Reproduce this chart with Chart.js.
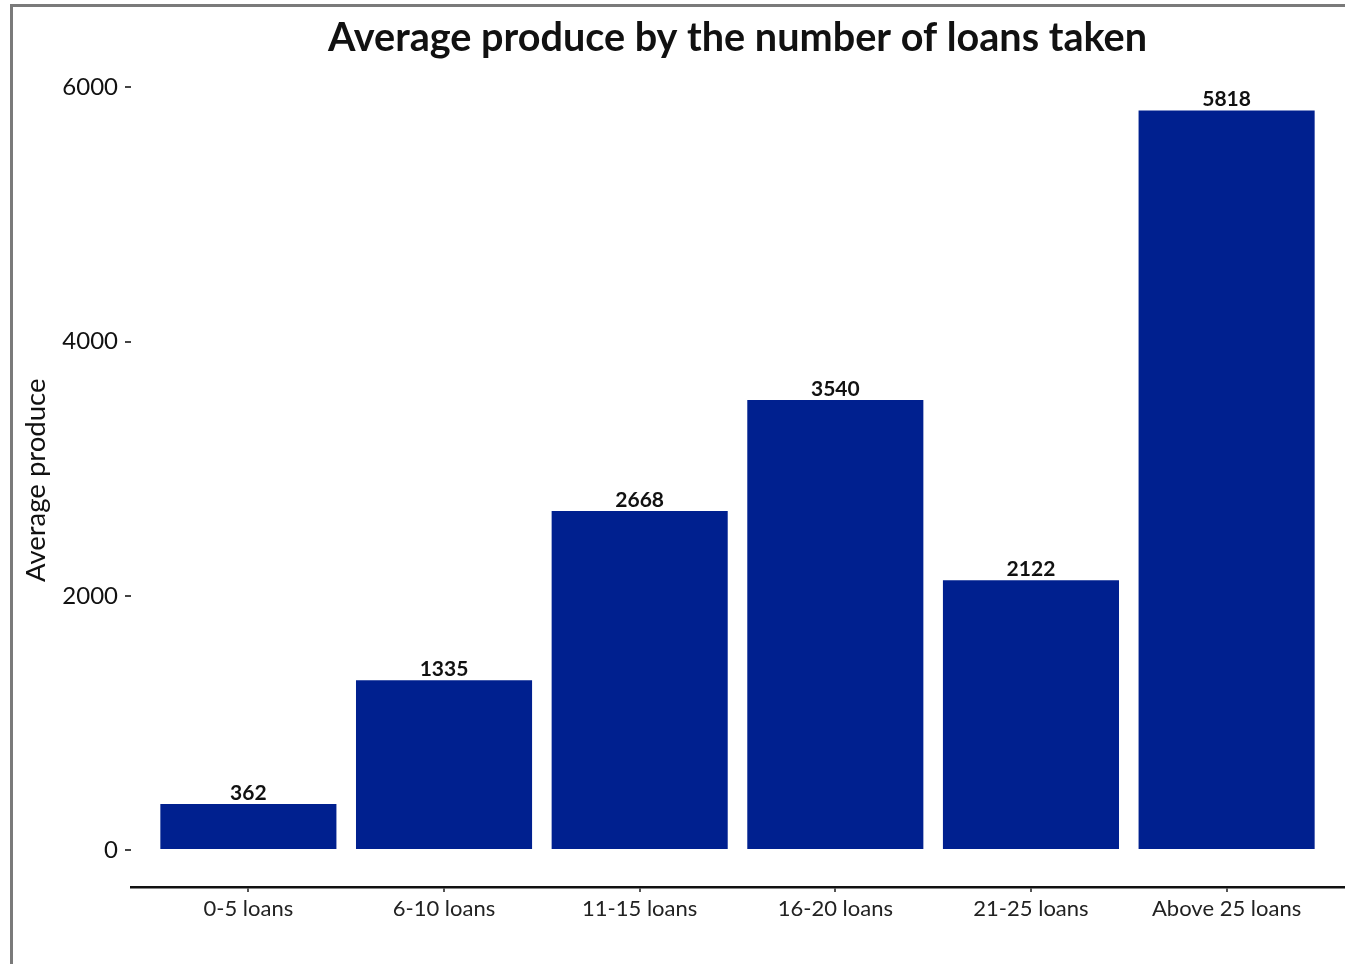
<!DOCTYPE html>
<html>
<head>
<meta charset="utf-8">
<title>Average produce by the number of loans taken</title>
<script src="https://cdn.jsdelivr.net/npm/chart.js@4.4.1/dist/chart.umd.min.js"></script>
<style>
    html, body { margin: 0; padding: 0; background: #fff; }
    #wrap { width: 1345px; height: 964px; position: relative; }
</style>
</head>
<body>
<div id="wrap"><canvas id="produceChart"></canvas></div>
<script>
// Loan-count buckets and their average produce
const loanGroups = ['0-5 loans', '6-10 loans', '11-15 loans', '16-20 loans', '21-25 loans', 'Above 25 loans'];
const avgProduce = [362, 1335, 2668, 3540, 2122, 5818];
const yTicks = [0, 2000, 4000, 6000];

const FONT = "Lato, 'Noto Sans', sans-serif";
const BAR_COLOR = '#00208F';

// ggplot-like padding around the data on the value axis
const yPad = Math.max(...avgProduce) * 0.05;

// Gray frame on the left and top edges
const framePlugin = {
    id: 'frame',
    beforeDraw(chart) {
        const { ctx } = chart;
        ctx.save();
        ctx.fillStyle = '#fff';
        ctx.fillRect(0, 0, chart.width, chart.height);
        ctx.fillStyle = '#7a7a7a';
        ctx.fillRect(10, 4, 3, chart.height - 4);
        ctx.fillRect(10, 4, chart.width - 10, 3);
        ctx.restore();
    },
};

// Value labels above each bar
const valueLabels = {
    id: 'valueLabels',
    afterDatasetsDraw(chart) {
        const { ctx } = chart;
        const meta = chart.getDatasetMeta(0);
        ctx.save();
        ctx.font = `bold 21px ${FONT}`;
        ctx.fillStyle = '#111';
        ctx.textAlign = 'center';
        ctx.textBaseline = 'alphabetic';
        meta.data.forEach((bar, i) => {
            ctx.fillText(String(avgProduce[i]), bar.x, bar.y - 4);
        });
        ctx.restore();
    },
};

new Chart(document.getElementById('produceChart'), {
    type: 'bar',
    data: {
        datasets: [{
            data: avgProduce.map((v, i) => ({ x: i, y: v })),
            backgroundColor: BAR_COLOR,
            borderWidth: 0,
            barPercentage: 0.9,
            categoryPercentage: 1,
        }],
    },
    options: {
        responsive: true,
        maintainAspectRatio: false,
        animation: false,
        layout: { padding: { left: 0, right: 1, top: 0, bottom: 0 } },
        plugins: {
            legend: { display: false },
            tooltip: { enabled: false },
            title: {
                display: true,
                text: 'Average produce by the number of loans taken',
                fullSize: false,
                color: '#111',
                font: { family: FONT, size: 39.6, weight: 'bold' },
                padding: { top: 14, bottom: 12 },
            },
        },
        scales: {
            x: {
                type: 'linear',
                offset: false,
                min: -0.6,
                max: loanGroups.length - 0.4,
                afterBuildTicks: (axis) => {
                    axis.ticks = loanGroups.map((_, i) => ({ value: i }));
                },
                afterFit: (axis) => { axis.height = 77; },
                border: { display: true, color: '#111', width: 2.5 },
                grid: {
                    display: true,
                    offset: false,
                    drawOnChartArea: false,
                    drawTicks: true,
                    tickLength: 5,
                    color: '#555',
                    lineWidth: 2,
                },
                ticks: {
                    autoSkip: false,
                    maxRotation: 0,
                    padding: 4,
                    color: '#222',
                    font: { family: FONT, size: 22 },
                    callback: (value) => loanGroups[value] ?? '',
                },
            },
            y: {
                min: -yPad,
                max: Math.max(...avgProduce) + yPad,
                afterBuildTicks: (axis) => {
                    axis.ticks = yTicks.map((v) => ({ value: v }));
                },
                afterFit: (axis) => { axis.width = 131; },
                border: { display: false },
                grid: {
                    display: true,
                    drawOnChartArea: false,
                    drawTicks: true,
                    tickLength: 6,
                    color: '#444',
                    lineWidth: 2,
                },
                ticks: {
                    padding: 7,
                    color: '#111',
                    font: { family: FONT, size: 24 },
                    callback: (value) => String(value),
                },
                title: {
                    display: true,
                    text: 'Average produce',
                    color: '#111',
                    font: { family: FONT, size: 27.5 },
                    padding: { top: 20, bottom: 0 },
                },
            },
        },
    },
    plugins: [framePlugin, valueLabels],
});
</script>
</body>
</html>
